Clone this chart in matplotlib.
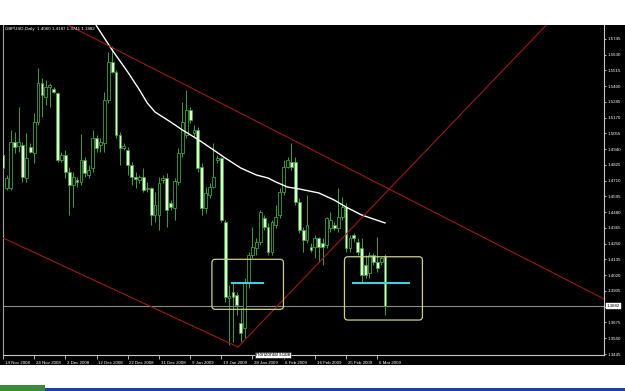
import matplotlib
matplotlib.use("Agg")
import matplotlib.pyplot as plt
import matplotlib.transforms as mtransforms
from matplotlib.patches import Rectangle, FancyBboxPatch
import numpy as np

# ---------------- data ----------------
title_text = "GBPUSD,Daily  1.4060 1.4187 1.3741 1.3882"
bid_label_text = "1.3882"

opens = [1.4898, 1.4654, 1.4654, 1.4995, 1.4966, 1.4971, 1.4727, 1.4959, 1.4910, 1.5141,
         1.5421, 1.5324, 1.5394, 1.5380, 1.5348, 1.4861, 1.4898, 1.4776, 1.4679, 1.4715,
         1.4703, 1.4861, 1.4752, 1.4800, 1.5019, 1.4971, 1.4983, 1.5299, 1.5579, 1.5506,
         1.5044, 1.4951, 1.4934, 1.4825, 1.4740, 1.4715, 1.4740, 1.4650, 1.4654, 1.4460,
         1.4460, 1.4715, 1.4727, 1.4545, 1.4508, 1.4703, 1.4910, 1.5044, 1.5226, 1.5056,
         1.5080, 1.4813, 1.4508, 1.4606, 1.4667, 1.4861, 1.4874, 1.4411, 1.3851, 1.3900,
         1.3875, 1.3669, 1.3632, 1.3973, 1.4167, 1.4216, 1.4265, 1.4435, 1.4374, 1.4192,
         1.4387, 1.4460, 1.4630, 1.4813, 1.4849, 1.4849, 1.4557, 1.4350, 1.4277, 1.4228,
         1.4228, 1.4289, 1.4253, 1.4240, 1.4362, 1.4387, 1.4362, 1.4447, 1.4520, 1.4216,
         1.4314, 1.4265, 1.4216, 1.4094, 1.4034, 1.4167, 1.4119, 1.4119, 1.4160]
highs = [1.4922, 1.4752, 1.5080, 1.5068, 1.5251, 1.4995, 1.5056, 1.4983, 1.5202, 1.5535,
         1.5458, 1.5445, 1.5421, 1.5397, 1.5360, 1.4922, 1.4934, 1.4813, 1.4776, 1.4740,
         1.5049, 1.4886, 1.4825, 1.5080, 1.5044, 1.5019, 1.5360, 1.5652, 1.5694, 1.5518,
         1.5068, 1.4983, 1.4959, 1.4849, 1.4776, 1.4752, 1.4800, 1.4703, 1.4667, 1.4630,
         1.4740, 1.4752, 1.4764, 1.4569, 1.4727, 1.4946, 1.5287, 1.5372, 1.5251, 1.5117,
         1.5105, 1.4837, 1.4667, 1.4691, 1.4983, 1.4898, 1.4886, 1.4423, 1.3948, 1.3961,
         1.3900, 1.3778, 1.3997, 1.4192, 1.4374, 1.4289, 1.4496, 1.4460, 1.4399, 1.4423,
         1.4533, 1.4654, 1.4861, 1.4886, 1.4983, 1.4886, 1.4581, 1.4374, 1.4606, 1.4253,
         1.4314, 1.4301, 1.4289, 1.4447, 1.4484, 1.4411, 1.4654, 1.4594, 1.4545, 1.4314,
         1.4326, 1.4289, 1.4289, 1.4167, 1.4192, 1.4180, 1.4301, 1.4155, 1.4175]
lows = [1.4776, 1.4642, 1.4642, 1.4910, 1.4922, 1.4703, 1.4703, 1.4910, 1.4837, 1.5117,
        1.5178, 1.5263, 1.5251, 1.5348, 1.4849, 1.4849, 1.4727, 1.4460, 1.4520, 1.4667,
        1.4679, 1.4740, 1.4727, 1.4776, 1.4922, 1.4922, 1.4922, 1.5275, 1.5494, 1.5019,
        1.4825, 1.4934, 1.4752, 1.4679, 1.4654, 1.4691, 1.4630, 1.4630, 1.4387, 1.4411,
        1.4350, 1.4691, 1.4374, 1.4496, 1.4423, 1.4679, 1.4886, 1.5019, 1.5129, 1.5032,
        1.4776, 1.4460, 1.4472, 1.4581, 1.4654, 1.4837, 1.4411, 1.3827, 1.3511, 1.3535,
        1.3729, 1.3535, 1.3559, 1.3924, 1.4143, 1.4167, 1.4240, 1.4350, 1.4167, 1.4167,
        1.4362, 1.4435, 1.4606, 1.4800, 1.4788, 1.4533, 1.4326, 1.4192, 1.4253, 1.4192,
        1.4143, 1.4119, 1.4094, 1.4216, 1.4338, 1.4350, 1.4338, 1.4423, 1.4192, 1.4192,
        1.4265, 1.4167, 1.3973, 1.3997, 1.3997, 1.4094, 1.4046, 1.4094, 1.3730]
closes = [1.4800, 1.4727, 1.4995, 1.4959, 1.4990, 1.4740, 1.4874, 1.4922, 1.5141, 1.5421,
          1.5336, 1.5397, 1.5409, 1.5355, 1.4861, 1.4898, 1.4776, 1.4679, 1.4740, 1.4698,
          1.4861, 1.4764, 1.4788, 1.5019, 1.4946, 1.4995, 1.5299, 1.5579, 1.5506, 1.5044,
          1.4946, 1.4966, 1.4825, 1.4740, 1.4722, 1.4735, 1.4642, 1.4659, 1.4460, 1.4533,
          1.4691, 1.4727, 1.4496, 1.4520, 1.4708, 1.4910, 1.5141, 1.5226, 1.5153, 1.5080,
          1.4800, 1.4508, 1.4618, 1.4667, 1.4740, 1.4874, 1.4423, 1.3863, 1.3871, 1.3863,
          1.3802, 1.3596, 1.3973, 1.4167, 1.4228, 1.4265, 1.4484, 1.4374, 1.4192, 1.4411,
          1.4447, 1.4630, 1.4813, 1.4861, 1.4813, 1.4557, 1.4350, 1.4277, 1.4387, 1.4204,
          1.4289, 1.4228, 1.4228, 1.4435, 1.4423, 1.4362, 1.4447, 1.4520, 1.4216, 1.4289,
          1.4289, 1.4192, 1.4021, 1.4021, 1.4167, 1.4119, 1.4070, 1.4143, 1.3795]

# moving average
ma_bars = [22, 24, 28, 32, 35, 37, 39, 43, 46, 49, 51, 54, 57, 61, 65, 68, 70, 73, 76,
           81, 85, 88, 92, 98]
ma_values = [1.5960, 1.5840, 1.5665, 1.5504, 1.5374, 1.5278, 1.5212, 1.5139, 1.5081,
             1.5029, 1.4993, 1.4935, 1.4876, 1.4803, 1.4752, 1.4730, 1.4701, 1.4664,
             1.4650, 1.4621, 1.4569, 1.4518, 1.4460, 1.4402]

date_label_bars = [0, 8, 16, 24, 32, 40, 48, 56, 64, 72, 80, 88, 96]
date_labels = ["14 Nov 2008", "24 Nov 2008", "3 Dec 2008", "12 Dec 2008", "22 Dec 2008",
               "31 Dec 2008", "9 Jan 2009", "19 Jan 2009", "28 Jan 2009", "6 Feb 2009",
               "16 Feb 2009", "25 Feb 2009", "6 Mar 2009"]
price_ticks = [1.3445, 1.3560, 1.3675, 1.3790, 1.3905, 1.4020, 1.4135, 1.4250, 1.4365,
               1.4480, 1.4595, 1.4710, 1.4825, 1.4940, 1.5055, 1.5170, 1.5285, 1.5400,
               1.5515, 1.5630, 1.5745]

# drawn objects (bar index, price)
upper_line = [(16.7, 1.5847), (154.2, 1.3847)]
lower_line = [(0.0, 1.4292), (60.3, 1.3496)]
rising_line = [(60.3, 1.3496), (139.3, 1.5845)]
boxes = [((53.6, 1.3771), (71.95, 1.41365)), ((87.6, 1.3693), (107.6, 1.4155))]
cyan_levels = [((58.7, 66.7), 1.3966), ((89.9, 104.2), 1.3963)]

# ---------------- figure ----------------
W, H = 625, 391
fig = plt.figure(figsize=(W / 100, H / 100), dpi=100)
fig.patch.set_facecolor("white")

# black chart window background
fig.add_artist(Rectangle((0, 26 / H), 1, (365 - 25) / H, transform=fig.transFigure,
                         facecolor="black", edgecolor="none", zorder=-10))
# bottom task strips
fig.add_artist(Rectangle((45 / W, 0), 1, 3 / H, transform=fig.transFigure,
                         facecolor="#1f3f9f", edgecolor="none", zorder=-10))
fig.add_artist(Rectangle((0, 0), 45 / W, 6 / H, transform=fig.transFigure,
                         facecolor="#3a8a3a", edgecolor="none", zorder=-10))

ax = fig.add_axes([3 / W, (H - 355) / H, 601 / W, 330 / H])
ax.set_facecolor("black")
ax.set_xlim(0.077, 154.18)
ax.set_ylim(1.34377, 1.58472)

FONT = "Liberation Sans"
wick_color = "#3fa040"
bear_fill = "#e2f5d2"

o = np.array(opens); h = np.array(highs); l = np.array(lows); c = np.array(closes)
x = np.arange(len(o))
up = c >= o
bottom = np.minimum(o, c)
height = np.maximum(np.abs(c - o), 0.0005)

ax.vlines(x, l, h, color=wick_color, lw=0.7, zorder=2)
ax.bar(x[up], height[up], bottom=bottom[up], width=0.72, facecolor="black",
       edgecolor=wick_color, lw=0.6, zorder=3)
ax.bar(x[~up], height[~up], bottom=bottom[~up], width=0.72, facecolor=bear_fill,
       edgecolor=wick_color, lw=0.6, zorder=3)

# moving average
ax.plot(ma_bars, ma_values, color="white", lw=1.0, zorder=4)

# trend lines
red = "#9a1c1c"
(x1, y1), (x2, y2) = upper_line
s = (y2 - y1) / (x2 - x1)
ax.plot([-5, 160], [y1 + s * (-5 - x1), y1 + s * (160 - x1)], color=red, lw=0.8, zorder=5)
(x1, y1), (x2, y2) = lower_line
s = (y2 - y1) / (x2 - x1)
ax.plot([-5, x2], [y1 + s * (-5 - x1), y2], color=red, lw=0.8, zorder=5)
(x1, y1), (x2, y2) = rising_line
s = (y2 - y1) / (x2 - x1)
ax.plot([x1, 170], [y1, y1 + s * (170 - x1)], color=red, lw=0.8, zorder=5)

# bid line
bid_price = closes[-1]
ax.axhline(bid_price, color="#8c8c8c", lw=0.8, zorder=1)

# rounded boxes
aspect = (ax.get_ylim()[1] - ax.get_ylim()[0]) / 330 / ((ax.get_xlim()[1] - ax.get_xlim()[0]) / 601)
for (bx0, by0), (bx1, by1) in boxes:
    p = FancyBboxPatch((bx0, by0), bx1 - bx0, by1 - by0,
                       boxstyle="round,pad=0,rounding_size=0.9",
                       mutation_aspect=aspect, facecolor="none",
                       edgecolor="#cfcf8a", lw=0.9, zorder=6)
    ax.add_patch(p)

for (cx0, cx1), lvl in cyan_levels:
    ax.plot([cx0, cx1], [lvl, lvl], color="#3fd0e0", lw=1.5, zorder=7)

# axes styling
for side in ["top"]:
    ax.spines[side].set_visible(False)
ax.spines["right"].set_color("#c8c8c8")
ax.spines["bottom"].set_color("#c8c8c8")
ax.spines["left"].set_color("#a0a0a0")
for sp in ax.spines.values():
    sp.set_linewidth(0.8)

ax.yaxis.tick_right()
ax.set_yticks(price_ticks)
ax.set_yticklabels([f"{v:.4f}" for v in price_ticks], fontsize=3.2, family=FONT)
ax.tick_params(axis="y", colors="white", length=1.5, width=0.5, pad=1)

ax.set_xticks(date_label_bars)
ax.set_xticklabels(date_labels, fontsize=3.2, family=FONT)
ax.tick_params(axis="x", colors="white", length=3, width=0.5, pad=1)
offset = mtransforms.ScaledTranslation(1.2 / 72, 0, fig.dpi_scale_trans)
for lbl in ax.get_xticklabels():
    lbl.set_ha("left")
    lbl.set_transform(lbl.get_transform() + offset)

# title
ax.text(0.0035, 0.988, title_text, transform=ax.transAxes, color="white",
        fontsize=3.2, family=FONT, ha="left", va="center", zorder=8)

# bid price label on axis
trans = mtransforms.blended_transform_factory(ax.transAxes, ax.transData)
ax.text(1.004, bid_price, bid_label_text, transform=trans, ha="left", va="center",
        fontsize=3.2, family=FONT, color="black", clip_on=False, zorder=10,
        bbox=dict(boxstyle="square,pad=0.2", facecolor="white", edgecolor="white", lw=0.3))

# tooltip
fig.text(273 / W, 1 - 355 / H, "Horizontal scale", fontsize=3.4, family=FONT,
         color="black", ha="center", va="center", zorder=20,
         bbox=dict(boxstyle="square,pad=0.2", facecolor="white", edgecolor="black", lw=0.4))

fig.savefig("out.png", dpi=100, facecolor=fig.get_facecolor())
